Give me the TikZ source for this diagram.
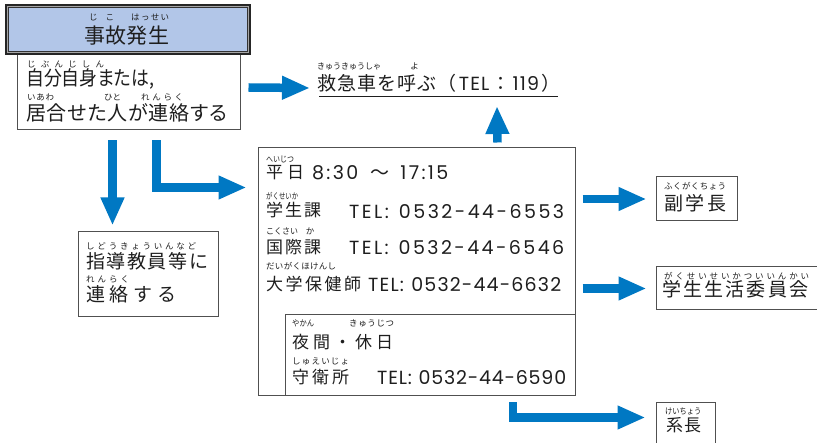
\documentclass[tikz,border=0pt]{standalone}
\usepackage{fontspec}
\usepackage{graphicx}
\usetikzlibrary{arrows.meta,calc}
\newfontfamily\jpfont{Noto Sans CJK JP}
\newfontfamily\jpalt[RawFeature=+palt]{Noto Sans CJK JP}
\newfontfamily\latfont{Poppins}
\newcommand\J{\jpfont}
\newcommand\LT{\latfont}
\def\sprA#1{#1\sprB}
\def\sprB#1{\ifx#1\relax\else\hfil#1\expandafter\sprB\fi}
\newcommand\spreadchars[1]{\sprA#1\relax}
\newcommand\fitline[2]{\setbox0\hbox{\spreadchars{#2}}\ifdim\wd0>#1\relax\resizebox{#1}{\height}{\box0}\else\makebox[#1][s]{\spreadchars{#2}}\fi}
\definecolor{arrowblue}{RGB}{0,120,195}
\definecolor{titleblue}{RGB}{178,198,232}
\definecolor{ink}{RGB}{30,30,30}
\definecolor{boxline}{RGB}{80,80,80}
\tikzset{
  box/.style={draw=boxline, line width=1pt, fill=white, inner sep=0pt, rectangle},
  txt/.style={inner sep=0pt, anchor=base west, text=ink},
  rb/.style={txt, font=\jpfont\fontsize{8.5}{8.5}\selectfont},
  rbc/.style={rb, anchor=base},
  sTitle/.style={font=\jpfont\fontsize{21}{21}\selectfont},
  sBig/.style={font=\jpalt\fontsize{20}{20}\selectfont},
  sMid/.style={font=\jpfont\fontsize{19}{19}\selectfont},
  sSmall/.style={font=\jpfont\fontsize{17}{17}\selectfont},
  sLat/.style={font=\latfont\fontsize{19}{19}\selectfont},
  arr/.style={draw=arrowblue, line width=8.5pt, -{Triangle[length=28pt,width=22pt]}, line join=miter},
}
\begin{document}
\begin{tikzpicture}[x=1pt,y=-1pt]
\useasboundingbox (0,0) rectangle (817,443);
\clip (0,0) rectangle (817,443);
\fill[white] (0,0) rectangle (817,443);

% ---- boxes
\node[box, minimum width=223pt, minimum height=75pt] (b2) at (128.5,92.5) {};
\node[draw=black!85, line width=1.6pt, fill=black!35, inner sep=0pt, minimum width=244.4pt, minimum height=49.4pt] (t) at (128,29.5) {};
\node[draw=black!80, line width=0.9pt, fill=titleblue, inner sep=0pt, minimum width=239pt, minimum height=44pt] (ti) at (128,29.5) {};
\node[box, minimum width=317pt, minimum height=248pt] (b3) at (416.5,272) {};
\node[box, minimum width=290pt, minimum height=81pt] (b3i) at (430,355.5) {};
\node[box, minimum width=140pt, minimum height=85pt] (b4) at (148,274.5) {};
\node[box, minimum width=81pt, minimum height=44pt] (b5) at (696.5,199) {};
\node[box, minimum width=174pt, minimum height=43pt] (b6) at (743,288.5) {};
\node[box, minimum width=59pt, minimum height=57pt] (b7) at (685.5,431.5) {};

% ---- title
\node[rb] (r1) at (89,20.5) {\fitline{25pt}{じこ}};
\node[rb] (r2) at (131,20.5) {\fitline{38pt}{はっせい}};
\node[txt, sTitle] (title) at (84,43.5) {\fitline{85pt}{事故発生}};

% ---- box 2
\node[rb] (r3) at (27,68) {\fitline{77pt}{じぶんじしん}};
\node[txt, sBig] (l21) at (26,85.5) {\fitline{128pt}{自分自身または,}};
\node[rb] (r4) at (27,101) {\fitline{27pt}{いあわ}};
\node[rb] (r5) at (104,101) {\fitline{17pt}{ひと}};
\node[rb] (r6) at (141,101) {\fitline{42pt}{れんらく}};
\node[txt, sBig] (l22) at (26,120.5) {\fitline{201pt}{居合せた人が連絡する}};

% ---- call
\node[rb] (r7) at (317,70) {\fitline{64pt}{きゅうきゅうしゃ}};
\node[rbc] (r8) at (414.5,70) {よ};
\node[txt, sMid] (callt) at (317,91) {\fitline{243pt}{救急車を呼ぶ（\LT TEL\J ：\LT 119\J ）}};
\draw[line width=1pt, ink] ($(callt.base west)+(2,6)$) -- ($(callt.base east)+(-2,6)$);

% ---- box 3
\node[rb] (r9) at (266,163) {\fitline{28pt}{へいじつ}};
\node[txt, sSmall] (wd) at (266,179) {\fitline{38pt}{平日}};
\node[txt, sLat] (hrs) at (312,180) {\fitline{136pt}{8:30\ \J 〜\ \LT 17:15}};
\node[rb] (r10) at (266,200) {\fitline{32pt}{がくせいか}};
\node[txt, sSmall] (d1) at (266,217) {\fitline{55pt}{学生課}};
\node[txt, sLat] (tel1) at (349,218.3) {\fitline{215pt}{TEL:\ 0532-44-6553}};
\node[rb] (r11) at (266,235) {\fitline{32pt}{こくさい}};
\node[rbc] (r12) at (310,235) {か};
\node[txt, sSmall] (d2) at (266,254) {\fitline{55pt}{国際課}};
\node[txt, sLat] (tel2) at (349,255) {\fitline{215pt}{TEL:\ 0532-44-6546}};
\node[rb] (r13) at (266,270) {\fitline{70pt}{だいがくほけんし}};
\node[txt, sSmall] (d3) at (266,291) {\fitline{95pt}{大学保健師}};
\node[txt, sLat] (tel3) at (368,291.7) {\fitline{193pt}{TEL:\ 0532-44-6632}};

\node[rb] (r14) at (292,327) {\fitline{22pt}{やかん}};
\node[rb] (r15) at (349,327) {\fitline{45pt}{きゅうじつ}};
\node[txt, sSmall] (d4) at (292,349) {\fitline{101pt}{夜間・休日}};
\node[rb] (r16) at (292,365) {\fitline{57pt}{しゅえいじょ}};
\node[txt, sSmall] (d5) at (292,384) {\fitline{57pt}{守衛所}};
\node[txt, sLat] (tel4) at (377,385) {\fitline{189pt}{TEL:\ 0532-44-6590}};

% ---- box 4
\node[rb] (r17) at (86,250) {\fitline{110pt}{しどうきょういんなど}};
\node[txt, sMid] (l41) at (86,268.7) {\fitline{122pt}{指導教員等に}};
\node[rb] (r18) at (86,283) {\fitline{43pt}{れんらく}};
\node[txt, sMid] (l42) at (86,301.7) {\fitline{90pt}{連絡する}};

% ---- right boxes
\node[rb] (r19) at (664,190) {\fitline{62pt}{ふくがくちょう}};
\node[txt, sMid] (l5) at (664,210.7) {\fitline{62pt}{副学長}};
\node[rb] (r20) at (664,280) {\fitline{145pt}{がくせいせいかついいんかい}};
\node[txt, sMid] (l6) at (662,296.7) {\fitline{146pt}{学生生活委員会}};
\node[rb] (r21) at (665,415) {\fitline{36pt}{けいちょう}};
\node[txt, sSmall] (l7) at (666,432) {\fitline{35pt}{系長}};

% ---- arrows
\draw[arr] ($(b2.north east)+(8,33)$) -- ($(callt.base west)+(-7,-3)$);
\draw[arr] ($(b3.north east)+(-78,-5)$) -- ($(callt.base west)+(180,15)$);
\draw[arr] ($(b2.south west)+(96,10)$) -- ($(b4.north west)+(35,-6)$);
\draw[arr] ($(b2.south west)+(140,10)$) |- ($(b3.north west)+(-11,40)$);
\draw[arr] ($(b5.west)+(-73,0)$) -- ($(b5.west)+(-9,0)$);
\draw[arr] ($(b6.west)+(-73,0)$) -- ($(b6.west)+(-9,0)$);
\draw[arr] ($(b3.south west)+(255.5,6)$) |- ($(b7.north west)+(-10,15)$);
\end{tikzpicture}
\end{document}
